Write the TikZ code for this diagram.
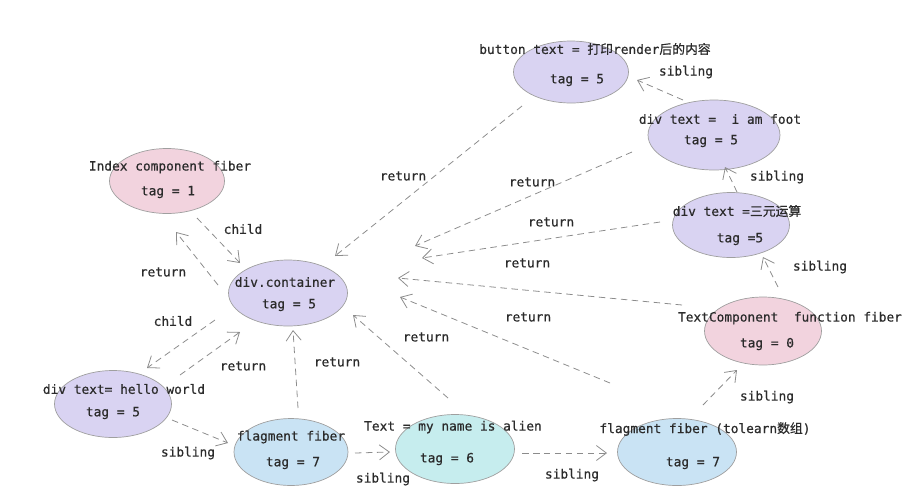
\documentclass[tikz,border=0pt]{standalone}
\usepackage{fontspec}
\setmonofont[FakeBold=0.6]{DejaVu Sans Mono}
\newfontfamily\cjk[FakeBold=0.6]{Noto Sans CJK SC}
\usetikzlibrary{shapes.geometric, arrows.meta}
\definecolor{purp}{HTML}{D9D3F2}
\definecolor{pinkf}{HTML}{F2D3DE}
\definecolor{cyanf}{HTML}{C6EDEE}
\definecolor{bluef}{HTML}{C9E3F4}
\definecolor{ink}{HTML}{2B2B2B}
\tikzset{fib/.style = {ellipse, draw=gray!75, thin, inner sep=0pt},
           pu/.style = {fib, fill=purp},
           pk/.style = {fib, fill=pinkf},
           cy/.style = {fib, fill=cyanf},
           bl/.style = {fib, fill=bluef},
           tx/.style = {inner sep=0pt, text=ink, font=\ttfamily\fontsize{7.3}{9}\selectfont},
           lk/.style = {->, gray!90, line width=0.45pt, dash pattern=on 1.3mm off 0.9mm}}

\begin{document}
\begin{tikzpicture}[x=0.02cm, y=-0.02cm, >={Straight Barb[length=2mm, width=3mm]}]
    \useasboundingbox (0,0) rectangle (917,495);
    % fibers
    \node[pk, minimum width=2.30cm, minimum height=1.30cm] (idx) at (167,181) {};
    \node[pu, minimum width=2.38cm, minimum height=1.32cm] (dc) at (288,293) {};
    \node[pu, minimum width=2.34cm, minimum height=1.34cm] (hello) at (113,404) {};
    \node[bl, minimum width=2.28cm, minimum height=1.34cm] (fragL) at (291,452) {};
    \node[cy, minimum width=2.38cm, minimum height=1.38cm] (alien) at (455,449) {};
    \node[bl, minimum width=2.38cm, minimum height=1.34cm] (fragR) at (677,452) {};
    \node[pk, minimum width=2.34cm, minimum height=1.36cm] (tcomp) at (763,331) {};
    \node[pu, minimum width=2.34cm, minimum height=1.30cm] (tern) at (731,225) {};
    \node[pu, minimum width=2.64cm, minimum height=1.40cm] (foot) at (714,135) {};
    \node[pu, minimum width=2.30cm, minimum height=1.24cm] (btn) at (571,72) {};
    % fiber texts
    \node[tx] (idxT) at (170,167) {Index component fiber};
    \node[tx] (idxG) at (168,192) {tag = 1};
    \node[tx] (dcT) at (285,282) {div.container};
    \node[tx] (dcG) at (289,305) {tag = 5};
    \node[tx] (helloT) at (124,389) {div text= hello world};
    \node[tx] (helloG) at (113,413) {tag = 5};
    \node[tx] (fragLT) at (291,437) {flagment fiber};
    \node[tx] (fragLG) at (293,463) {tag = 7};
    \node[tx] (alienT) at (453,427) {Text = my name is alien};
    \node[tx] (alienG) at (447,459) {tag = 6};
    \node[tx] (fragRT) at (705,429) {flagment fiber (tolearn{\cjk 数组})};
    \node[tx] (fragRG) at (693,463) {tag = 7};
    \node[tx] (tcompT) at (790,318) {TextComponent\ \ function fiber};
    \node[tx] (tcompG) at (767,344) {tag = 0};
    \node[tx] (ternT) at (737,211) {div text ={\cjk 三元运算}};
    \node[tx] (ternG) at (740,239) {tag =5};
    \node[tx] (footT) at (720,119) {div text =\ \ i am foot};
    \node[tx] (footG) at (711,141) {tag = 5};
    \node[tx] (btnT) at (595,49) {button text = {\cjk 打印}render{\cjk 后的内容}};
    \node[tx] (btnG) at (577,80) {tag = 5};
    % links
    \draw[lk] ([shift={(30,37)}]idx.center) -- ([shift={(-48,-30)}]dc.center);
    \draw[lk] ([shift={(-70,-8)}]dc.center) -- ([shift={(9,51)}]idx.center);
    \draw[lk] ([shift={(-73,27)}]dc.center) -- ([shift={(34,-36)}]hello.center);
    \draw[lk] ([shift={(67,-29)}]hello.center) -- ([shift={(-48,39)}]dc.center);
    \draw[lk] ([shift={(59,16)}]hello.center) -- ([shift={(-63,-9)}]fragL.center);
    \draw[lk] ([shift={(7,-44)}]fragL.center) -- ([shift={(5,37)}]dc.center);
    \draw[lk] ([shift={(64,1)}]fragL.center) -- ([shift={(-65,3)}]alien.center);
    \draw[lk] ([shift={(-7,-51)}]alien.center) -- ([shift={(65,22)}]dc.center);
    \draw[lk] ([shift={(67,4)}]alien.center) -- ([shift={(-70,1)}]fragR.center);
    \draw[lk] ([shift={(26,-47)}]fragR.center) -- ([shift={(-26,39)}]tcomp.center);
    \draw[lk] ([shift={(-67,-69)}]fragR.center) -- ([shift={(112,4)}]dc.center);
    \draw[lk] ([shift={(-81,-26)}]tcomp.center) -- ([shift={(110,-15)}]dc.center);
    \draw[lk] ([shift={(-71,-3)}]tern.center) -- ([shift={(134,-35)}]dc.center);
    \draw[lk] ([shift={(-82,17)}]foot.center) -- ([shift={(127,-47)}]dc.center);
    \draw[lk] ([shift={(-49,34)}]btn.center) -- ([shift={(47,-37)}]dc.center);
    \draw[lk] ([shift={(-31,-35)}]foot.center) -- ([shift={(66,8)}]btn.center);
    \draw[lk] ([shift={(6,-33)}]tern.center) -- ([shift={(11,32)}]foot.center);
    \draw[lk] ([shift={(15,-44)}]tcomp.center) -- ([shift={(32,32)}]tern.center);
    % link labels
    \node[tx] (c1) at (243,229) {child};
    \node[tx] (r1) at (163,272) {return};
    \node[tx] (c2) at (173,321) {child};
    \node[tx] (r2) at (243,366) {return};
    \node[tx] (s1) at (188,453) {sibling};
    \node[tx] (r3) at (337,362) {return};
    \node[tx] (s2) at (383,479) {sibling};
    \node[tx] (r4) at (426,337) {return};
    \node[tx] (s3) at (572,475) {sibling};
    \node[tx] (s4) at (767,397) {sibling};
    \node[tx] (r5) at (528,317) {return};
    \node[tx] (r6) at (527,263) {return};
    \node[tx] (r7) at (551,222) {return};
    \node[tx] (r8) at (532,182) {return};
    \node[tx] (r9) at (403,176) {return};
    \node[tx] (s5) at (686,72) {sibling};
    \node[tx] (s6) at (777,177) {sibling};
    \node[tx] (s7) at (820,267) {sibling};
\end{tikzpicture}
\end{document}
